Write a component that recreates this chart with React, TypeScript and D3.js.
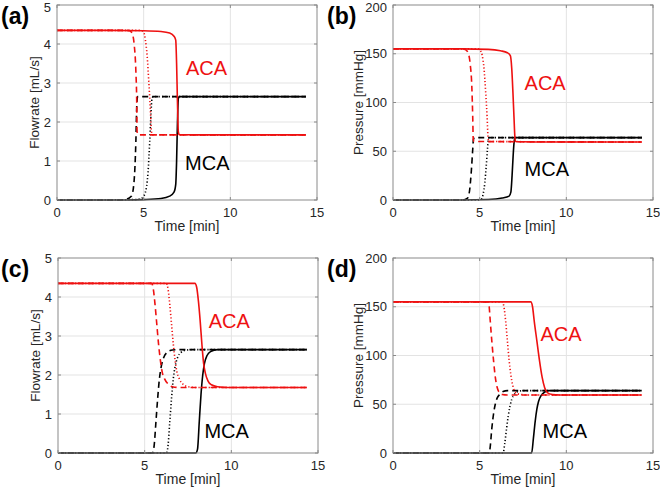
import React from "react";
import * as d3 from "d3";

type Pt = [number, number];

// ---------- Panel (a): Flowrate ----------
const aAcaSolid: Pt[] = [[0,4.35],[3,4.35],[5,4.34],[6,4.32],[6.5,4.28],[6.75,4.2],[6.85,4.1],[6.9,3.5],[6.95,2.5],[7.0,1.75],[7.05,1.68],[8,1.67],[14.35,1.67]];
const aMcaSolid: Pt[] = [[0,0],[4,0],[5,0.01],[6,0.04],[6.5,0.1],[6.75,0.2],[6.85,0.4],[6.9,1.0],[6.95,2.0],[7.0,2.6],[7.05,2.65],[14.35,2.65]];
const aAcaDash: Pt[] = [[0,4.35],[4.0,4.35],[4.2,4.34],[4.35,4.25],[4.45,4.0],[4.55,3.3],[4.6,2.5],[4.62,1.75],[4.7,1.67],[14.35,1.67]];
const aMcaDash: Pt[] = [[0,0],[3.5,0],[4.0,0.02],[4.3,0.1],[4.45,0.5],[4.55,1.5],[4.6,2.4],[4.65,2.65],[14.35,2.65]];
const aAcaDot: Pt[] = [[0,4.35],[4.8,4.35],[5.0,4.3],[5.1,4.1],[5.2,3.7],[5.3,3.0],[5.4,2.2],[5.45,1.75],[5.5,1.67],[14.35,1.67]];
const aMcaDot: Pt[] = [[0,0],[4.6,0.01],[4.9,0.05],[5.1,0.2],[5.25,0.7],[5.35,1.5],[5.42,2.2],[5.48,2.6],[5.55,2.65],[14.35,2.65]];

// ---------- Panel (b): Pressure ----------
const bAcaSolid: Pt[] = [[0,155],[4,155],[5.5,154.5],[6.2,153],[6.6,151],[6.77,148],[6.85,135],[6.92,110],[6.98,85],[7.03,65],[7.07,60],[8,59.5],[14.35,59.5]];
const bMcaSolid: Pt[] = [[0,0],[4,0],[5.5,0.5],[6.3,2],[6.7,4],[6.8,8],[6.87,25],[6.93,45],[6.98,58],[7.02,63],[7.07,64],[14.35,64]];
const bAcaDash: Pt[] = [[0,155],[4.0,155],[4.2,154],[4.35,150],[4.45,140],[4.55,115],[4.6,85],[4.63,62],[4.68,60],[14.35,59.5]];
const bMcaDash: Pt[] = [[0,0],[4.0,0],[4.3,2],[4.42,10],[4.52,30],[4.6,52],[4.64,62],[4.7,64],[14.35,64]];
const bAcaDot: Pt[] = [[0,155],[4.9,155],[5.05,153],[5.15,148],[5.25,135],[5.35,110],[5.43,85],[5.48,65],[5.52,60],[14.35,59.5]];
const bMcaDot: Pt[] = [[0,0],[4.9,0],[5.1,1],[5.2,6],[5.3,18],[5.38,35],[5.45,52],[5.5,62],[5.55,64],[14.35,64]];

// ---------- Panel (c): Flowrate ----------
const cAcaSolid: Pt[] = [[0,4.35],[7.9,4.35],[8.0,4.25],[8.1,3.9],[8.2,3.4],[8.3,2.8],[8.4,2.3],[8.5,2.05],[8.65,1.85],[8.85,1.75],[9.2,1.7],[9.8,1.68],[14.35,1.68]];
const cMcaSolid: Pt[] = [[0,0],[7.95,0],[8.05,0.1],[8.15,0.8],[8.25,1.5],[8.35,2.0],[8.45,2.3],[8.6,2.5],[8.8,2.6],[9.2,2.65],[14.35,2.65]];
const cAcaDash: Pt[] = [[0,4.35],[5.4,4.35],[5.5,4.2],[5.6,3.8],[5.7,3.3],[5.8,2.8],[5.9,2.4],[6.0,2.1],[6.15,1.9],[6.35,1.77],[6.6,1.7],[7.0,1.68],[14.35,1.68]];
const cMcaDash: Pt[] = [[0,0],[5.45,0],[5.55,0.2],[5.65,0.8],[5.75,1.4],[5.85,1.9],[5.95,2.2],[6.1,2.45],[6.3,2.58],[6.6,2.64],[7.0,2.65],[14.35,2.65]];
const cAcaDot: Pt[] = [[0,4.35],[6.25,4.35],[6.35,4.2],[6.45,3.8],[6.55,3.3],[6.65,2.8],[6.75,2.4],[6.85,2.1],[7.0,1.9],[7.2,1.77],[7.5,1.7],[8.0,1.68],[14.35,1.68]];
const cMcaDot: Pt[] = [[0,0],[6.25,0],[6.35,0.2],[6.45,0.8],[6.55,1.4],[6.65,1.9],[6.75,2.2],[6.9,2.45],[7.1,2.58],[7.4,2.64],[7.8,2.65],[14.35,2.65]];

// ---------- Panel (d): Pressure ----------
const dAcaSolid: Pt[] = [[0,155],[7.95,155],[8.05,150],[8.15,135],[8.3,115],[8.45,95],[8.6,78],[8.75,67],[8.9,62],[9.2,60],[9.6,59.5],[14.35,59.5]];
const dMcaSolid: Pt[] = [[0,0],[8.0,0],[8.1,15],[8.2,32],[8.3,45],[8.4,53],[8.55,59],[8.75,62.5],[9.0,64],[14.35,64]];
const dAcaDash: Pt[] = [[0,155],[5.5,155],[5.55,150],[5.6,138],[5.7,115],[5.8,95],[5.9,78],[6.0,68],[6.1,63],[6.3,60],[6.6,59.5],[14.35,59.5]];
const dMcaDash: Pt[] = [[0,0],[5.55,0],[5.6,5],[5.7,25],[5.8,40],[5.9,50],[6.0,56],[6.15,60],[6.35,63],[6.6,64],[14.35,64]];
const dAcaDot: Pt[] = [[0,155],[6.3,155],[6.4,150],[6.5,135],[6.6,115],[6.7,95],[6.8,80],[6.9,70],[7.0,64],[7.15,61],[7.4,60],[7.7,59.5],[14.35,59.5]];
const dMcaDot: Pt[] = [[0,0],[6.35,0],[6.45,10],[6.55,25],[6.65,38],[6.75,48],[6.85,55],[7.0,60],[7.2,63],[7.5,64],[14.35,64]];

const xTicks = [0, 5, 10, 15];
const flowTicks = [0, 1, 2, 3, 4, 5];
const pressTicks = [0, 50, 100, 150, 200];
const panelLetters = ["(a)", "(b)", "(c)", "(d)"];
const xLabel = "Time [min]";
const flowLabel = "Flowrate [mL/s]";
const pressLabel = "Pressure [mmHg]";

const RED = "#ee1111";
const BLACK = "#000000";
const FONT = "'Liberation Sans', Arial, Helvetica, sans-serif";

type Series = { data: Pt[]; color: string; dash: string | null };

function mk(solidA: Pt[], solidM: Pt[], dashA: Pt[], dashM: Pt[], dotA: Pt[], dotM: Pt[]): Series[] {
  return [
    { data: dotM, color: BLACK, dash: "1.2,2.2" },
    { data: dashM, color: BLACK, dash: "6,4" },
    { data: solidM, color: BLACK, dash: null },
    { data: dotA, color: RED, dash: "1.2,2.2" },
    { data: dashA, color: RED, dash: "6,4" },
    { data: solidA, color: RED, dash: null },
  ];
}

type PanelCfg = {
  left: number; top: number; yMax: number; yTicks: number[]; yLabel: string; letter: string;
  letterX: number; series: Series[]; aca: Pt; mca: Pt;
};

const W = 260, H = 195;

const panels: PanelCfg[] = [
  { left: 57, top: 5, yMax: 5, yTicks: flowTicks, yLabel: flowLabel, letter: panelLetters[0], letterX: 1,
    series: mk(aAcaSolid, aMcaSolid, aAcaDash, aMcaDash, aAcaDot, aMcaDot), aca: [7.44, 3.2], mca: [7.39, 0.77] },
  { left: 393, top: 5, yMax: 200, yTicks: pressTicks, yLabel: pressLabel, letter: panelLetters[1], letterX: 327,
    series: mk(bAcaSolid, bMcaSolid, bAcaDash, bMcaDash, bAcaDot, bMcaDot), aca: [7.59, 112.8], mca: [7.59, 24.6] },
  { left: 58, top: 258, yMax: 5, yTicks: flowTicks, yLabel: flowLabel, letter: panelLetters[2], letterX: 1,
    series: mk(cAcaSolid, cMcaSolid, cAcaDash, cMcaDash, cAcaDot, cMcaDot), aca: [8.69, 3.2], mca: [8.45, 0.38] },
  { left: 393, top: 258, yMax: 200, yTicks: pressTicks, yLabel: pressLabel, letter: panelLetters[3], letterX: 327,
    series: mk(dAcaSolid, dMcaSolid, dAcaDash, dMcaDash, dAcaDot, dMcaDot), aca: [8.51, 114.9], mca: [8.63, 15.4] },
];

function Panel({ cfg }: { cfg: PanelCfg }) {
  const x = d3.scaleLinear().domain([0, 15]).range([0, W]);
  const y = d3.scaleLinear().domain([0, cfg.yMax]).range([H, 0]);
  const line = d3.line<Pt>().x((d) => x(d[0])).y((d) => y(d[1])).curve(d3.curveMonotoneX);
  return (
    <g>
      <text x={cfg.letterX} y={cfg.top + 19} fontFamily={FONT} fontWeight="bold" fontSize={23} fill="#000">{cfg.letter}</text>
      <g transform={`translate(${cfg.left},${cfg.top})`}>
        <rect x={0} y={0} width={W} height={H} fill="#fff" />
        {xTicks.slice(1, -1).map((t) => (
          <line key={"gx" + t} x1={x(t)} x2={x(t)} y1={0} y2={H} stroke="#e3e3e3" strokeWidth={1} />
        ))}
        {cfg.yTicks.slice(1, -1).map((t) => (
          <line key={"gy" + t} x1={0} x2={W} y1={y(t)} y2={y(t)} stroke="#e3e3e3" strokeWidth={1} />
        ))}
        <g>
          {cfg.series.map((s, i) => (
            <path key={i} d={line(s.data) || ""} fill="none" stroke={s.color} strokeWidth={1.6}
              strokeDasharray={s.dash || undefined} strokeLinejoin="round" />
          ))}
        </g>
        <rect x={0} y={0} width={W} height={H} fill="none" stroke="#8a8a8a" strokeWidth={1} />
        {xTicks.map((t) => (
          <g key={"tx" + t}>
            <line x1={x(t)} x2={x(t)} y1={H} y2={H - 3} stroke="#8a8a8a" />
            <line x1={x(t)} x2={x(t)} y1={0} y2={3} stroke="#8a8a8a" />
            <text x={x(t)} y={H + 17} textAnchor="middle" fontFamily={FONT} fontSize={13} fill="#262626">{t}</text>
          </g>
        ))}
        {cfg.yTicks.map((t) => (
          <g key={"ty" + t}>
            <line x1={0} x2={3} y1={y(t)} y2={y(t)} stroke="#8a8a8a" />
            <line x1={W} x2={W - 3} y1={y(t)} y2={y(t)} stroke="#8a8a8a" />
            <text x={-6} y={Math.max(y(t) + 4.7, 6 - cfg.top + 5.5)} textAnchor="end" fontFamily={FONT} fontSize={13} fill="#262626">{t}</text>
          </g>
        ))}
        <text x={W / 2} y={H + 31} textAnchor="middle" fontFamily={FONT} fontSize={14} fill="#262626">{xLabel}</text>
        <text transform={`translate(${cfg.yMax > 10 ? -30 : -18},${H / 2}) rotate(-90)`} textAnchor="middle"
          fontFamily={FONT} fontSize={13.5} fill="#262626">{cfg.yLabel}</text>
        <text x={x(cfg.aca[0])} y={y(cfg.aca[1])} fontFamily={FONT} fontSize={20} fill={RED}>ACA</text>
        <text x={x(cfg.mca[0])} y={y(cfg.mca[1])} fontFamily={FONT} fontSize={20} fill="#000">MCA</text>
      </g>
    </g>
  );
}

export default function App() {
  return (
    <svg width={660} height={492} style={{ position: "absolute", left: 0, top: 0, background: "#fff" }}>
      <rect width={660} height={492} fill="#fff" />
      {panels.map((p, i) => <Panel key={i} cfg={p} />)}
    </svg>
  );
}
